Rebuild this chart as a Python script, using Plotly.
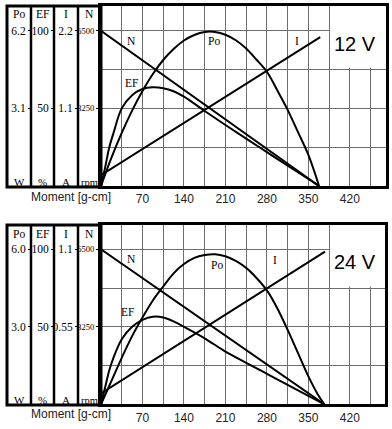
import plotly.graph_objects as go

# ---------------- data ----------------
# 12 V panel
x_line_12 = [0, 368]
n_12 = [6500, 0]                      # rpm
x_cur_12 = [0, 370]
i_12 = [0.154, 2.11]                  # A
x_po_12 = [0, 17.5, 35, 52.5, 70, 87.5, 105, 122.5, 140, 157.5, 175, 192.5,
           210, 227.5, 245, 262.5, 280, 297.5, 315, 332.5, 350, 368]
po_12 = [0, 1.12, 2.12, 3.01, 3.79, 4.47, 5.03, 5.47, 5.81, 6.03, 6.15, 6.15,
         6.04, 5.82, 5.49, 5.04, 4.56, 3.82, 3.04, 2.15, 1.24, 0]   # W
x_ef_12 = [0, 7, 14, 21, 35, 52.5, 70, 87.5, 105, 122.5, 140, 175, 210, 245,
           280, 315, 350, 368]
ef_12 = [0, 12, 25, 34, 50, 58.5, 62.5, 63.6, 63, 61, 57.5, 48.3, 39.3, 30.5,
         21.8, 13.1, 4.5, 0]          # %

# 24 V panel
x_line_24 = [0, 377]
n_24 = [6500, 0]
x_cur_24 = [0, 378]
i_24 = [0.077, 1.083]
x_po_24 = [0, 17.5, 35, 52.5, 70, 87.5, 105, 122.5, 140, 157.5, 175, 192.5,
           210, 227.5, 245, 262.5, 280, 297.5, 315, 332.5, 350, 365, 377]
po_24 = [0, 0.9, 1.8, 2.64, 3.36, 4.02, 4.56, 5.07, 5.43, 5.67, 5.78, 5.81,
         5.73, 5.55, 5.28, 4.89, 4.41, 3.72, 2.88, 1.98, 1.08, 0.42, 0]
x_ef_24 = [0, 7, 14, 21, 35, 52.5, 70, 87.5, 105, 122.5, 140, 175, 210, 245,
           280, 315, 350, 377]
ef_24 = [0, 11, 22, 30, 42, 50, 54.5, 56.5, 56, 53.5, 50, 42.6, 34, 26.8,
         19.7, 12.6, 5.5, 0]

# axis scales / tick labels
x_tickvals = [70, 140, 210, 280, 350, 420]
x_ticktext = ["70", "140", "210", "280", "350", "420"]
n_ticks = [3250, 6500]
po_ticks_12 = [3.1, 6.2]
ef_ticks = [50, 100]
i_ticks_12 = [1.1, 2.2]
po_ticks_24 = [3.0, 6.0]
i_ticks_24 = [0.55, 1.1]
i_ticktext_24 = ["0.55", "1.1"]
headers = ["Po", "EF", "I", "N"]
units = ["W", "%", "A", "rpm"]
volt_labels = ["12 V", "24 V"]

# ---------------- geometry ----------------
W, H = 392, 429
def px(v): return v / W
def py(v): return 1 - v / H

SERIF = "Liberation Serif"
SANS = "Liberation Sans"
GRID = "#6e6e6e"
K_TOP = 180 / 155.3
K_BOT = 179.3 / 155.0

fig = go.Figure()
line = dict(color="black", width=2)

def add(xs, ys, xa, ya, spline=False):
    fig.add_trace(go.Scatter(x=xs, y=ys, xaxis=xa, yaxis=ya, mode="lines",
                             line=dict(line, shape="spline" if spline else "linear"),
                             hoverinfo="skip", showlegend=False))

add(x_line_12, n_12, "x", "y")
add(x_po_12, po_12, "x", "y2", True)
add(x_ef_12, ef_12, "x", "y3", True)
add(x_cur_12, i_12, "x", "y4")
add(x_line_24, n_24, "x2", "y5")
add(x_po_24, po_24, "x2", "y6", True)
add(x_ef_24, ef_24, "x2", "y7", True)
add(x_cur_24, i_24, "x2", "y8")

def xax(domain, rng, anchor):
    return dict(domain=domain, range=rng, anchor=anchor, tickvals=x_tickvals,
                ticktext=x_ticktext, ticks="", showgrid=True, gridcolor=GRID,
                gridwidth=1.3, minor=dict(dtick=35, tick0=0, showgrid=True,
                                          gridcolor=GRID, gridwidth=1.3),
                showline=True, linecolor="black", linewidth=3, mirror=True,
                zeroline=False, tickfont=dict(family=SANS, size=12, color="#222"),
                fixedrange=True)

def nax(domain, rng, anchor):
    return dict(domain=domain, range=rng, anchor=anchor, tickvals=n_ticks,
                ticktext=[str(v) for v in n_ticks], ticks="outside", ticklen=2,
                tickcolor="black", tickwidth=1, showgrid=True, gridcolor=GRID,
                gridwidth=1.3, minor=dict(tickvals=[1625, 4875], showgrid=True,
                                          gridcolor=GRID, gridwidth=1.3, ticks=""),
                showline=True, linecolor="black", linewidth=3, mirror=True,
                zeroline=False, tickfont=dict(family=SERIF, size=8.5, color="black"),
                fixedrange=True)

def sideax(over, pos, rng, tv, tt=None):
    d = dict(overlaying=over, anchor="free", position=pos, range=rng,
             tickvals=tv, ticks="outside", ticklen=3, tickcolor="black",
             tickwidth=1, showgrid=False, showline=False, zeroline=False,
             tickfont=dict(family=SERIF, size=11.5, color="black"),
             fixedrange=True)
    if tt is not None:
        d["ticktext"] = tt
    else:
        d["tickformat"] = ".1f"
    return d

top_dom = [py(186), py(6)]
bot_dom = [py(404.3), py(225)]

ef_ax_12 = sideax("y", px(54), [0, 100 * K_TOP], ef_ticks, [str(v) for v in ef_ticks])
ef_ax_24 = sideax("y5", px(54), [0, 100 * K_BOT], ef_ticks, [str(v) for v in ef_ticks])

fig.update_layout(
    width=W, height=H, margin=dict(l=0, r=0, t=0, b=0),
    paper_bgcolor="white", plot_bgcolor="white", showlegend=False,
    xaxis=xax([px(101), px(386)], [0, 481], "y"),
    yaxis=nax(top_dom, [0, 6500 * K_TOP], "x"),
    yaxis2=sideax("y", px(31), [0, 6.2 * K_TOP], po_ticks_12),
    yaxis3=ef_ax_12,
    yaxis4=sideax("y", px(78), [0, 2.2 * K_TOP], i_ticks_12),
    xaxis2=xax([px(101), px(385)], [0, 479.3], "y5"),
    yaxis5=nax(bot_dom, [0, 6500 * K_BOT], "x2"),
    yaxis6=sideax("y5", px(31), [0, 6.0 * K_BOT], po_ticks_24),
    yaxis7=ef_ax_24,
    yaxis8=sideax("y5", px(78), [0, 1.1 * K_BOT], i_ticks_24, i_ticktext_24),
)

shapes = []
annos = []
for (ytop, ybot, yhead, yunit, xa, ya, volt, xmax, k) in [
        (6, 187, 14, 182, "x", "y", volt_labels[0], 481, K_TOP),
        (225, 405, 234, 400, "x2", "y5", volt_labels[1], 479.3, K_BOT)]:
    # left value-scale box
    shapes.append(dict(type="rect", xref="paper", yref="paper", x0=px(7), x1=px(101),
                       y0=py(ybot), y1=py(ytop), line=dict(color="black", width=3)))
    for xd in (31, 54, 78):
        shapes.append(dict(type="line", xref="paper", yref="paper", x0=px(xd), x1=px(xd),
                           y0=py(ybot), y1=py(ytop), line=dict(color="black", width=2.5)))
    for i, (h, u) in enumerate(zip(headers, units)):
        xc = [19, 42.5, 66, 89.5][i]
        annos.append(dict(xref="paper", yref="paper", x=px(xc), y=py(yhead), text=h,
                          showarrow=False, font=dict(family=SERIF, size=11.5, color="black"),
                          xanchor="center", yanchor="middle"))
        annos.append(dict(xref="paper", yref="paper", x=px(xc), y=py(yunit), text=u,
                          showarrow=False, font=dict(family=SERIF, size=10.5 if u == "rpm" else 11,
                                                     color="black"),
                          xanchor="center", yanchor="middle"))
    # white box for the voltage label
    shapes.append(dict(type="rect", xref=xa, yref=ya, x0=386.5, x1=xmax,
                       y0=4875 + 70, y1=6500 * k, fillcolor="white",
                       line=dict(width=0), layer="between"))
    annos.append(dict(xref=xa, yref=ya, x=428, y=0.915 * 6500, text=volt, showarrow=False,
                      font=dict(family=SANS, size=20, color="black"),
                      xanchor="center", yanchor="middle"))

# curve labels
lab_font = dict(family=SERIF, size=11.5, color="black")
for xa, ya, pts in [
        ("x", "y", [("N", 52, 6080), ("Po", 191, 6050), ("EF", 51, 4300), ("I", 330, 6080)]),
        ("x2", "y5", [("N", 51, 6080), ("Po", 195, 5850), ("EF", 45, 3880), ("I", 294, 6050)])]:
    for t, xv, yv in pts:
        annos.append(dict(xref=xa, yref=ya, x=xv, y=yv, text=t, showarrow=False,
                          font=lab_font, xanchor="center", yanchor="middle"))

for yl in (197, 414):
    annos.append(dict(xref="paper", yref="paper", x=px(71), y=py(yl), text="Moment [g-cm]",
                      showarrow=False, font=dict(family=SANS, size=12, color="#222"),
                      xanchor="center", yanchor="middle"))

fig.update_layout(shapes=shapes, annotations=annos)
fig.write_html("out.html", config={"displayModeBar": False},
               post_script="document.body.style.margin='0';")
